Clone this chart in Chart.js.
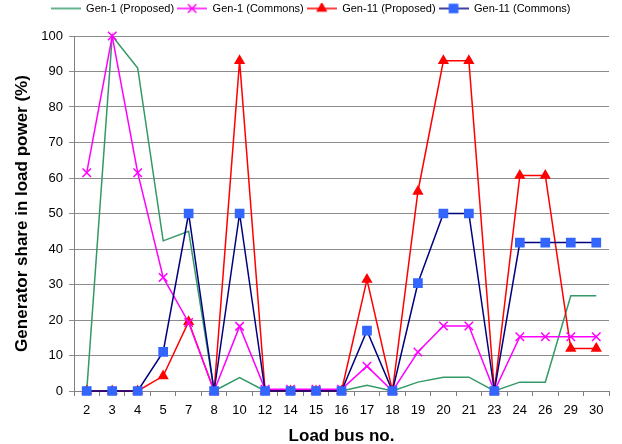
<!DOCTYPE html>
<html>
<head>
<meta charset="utf-8">
<script src="https://cdn.jsdelivr.net/npm/chart.js@4.4.1/dist/chart.umd.min.js"></script>
<style>
  html, body { margin: 0; padding: 0; background: #fff; }
  #wrap { width: 622px; height: 444px; }
</style>
</head>
<body>
<div id="wrap"><canvas id="grafico"></canvas></div>
<script>
// Load bus numbers (categories)
const barras = ["2", "3", "4", "5", "7", "8", "10", "12", "14", "15", "16", "17", "18", "19", "20", "21", "23", "24", "26", "29", "30"];

// Generator share in load power (%)
const gen1Proposto = [0, 100, 91, 42.3, 45, 0, 3.8, 0, 0, 0, 0, 1.6, 0, 2.5, 3.9, 3.9, 0, 2.5, 2.5, 26.8, 26.8];
const gen1Commons  = [61.5, 100, 61.5, 32, 19.3, 0, 18.2, 0.5, 0.5, 0.5, 0.5, 7, 0, 11, 18.3, 18.3, 0, 15.3, 15.3, 15.3, 15.3];
const gen11Proposto = [0, 0, 0, 4.2, 19.5, 0, 93, 0, 0, 0, 0, 31.4, 0, 56.2, 93, 93, 0, 60.7, 60.7, 12, 12];
const gen11Commons  = [0, 0, 0, 11, 50, 0, 50, 0, 0, 0, 0, 17, 0, 30.4, 50, 50, 0, 41.8, 41.8, 41.8, 41.8];

const ticksY = [0, 10, 20, 30, 40, 50, 60, 70, 80, 90, 100];

const fonte = "'Liberation Sans', Arial, sans-serif";

// small canvas used as legend symbol: line + marker
function desenharSimbolo(corLinha, corPonto, estilo, raio) {
  const c = document.createElement('canvas');
  c.width = 30; c.height = 12;
  const ctx = c.getContext('2d');
  ctx.strokeStyle = corLinha;
  ctx.lineWidth = 1.5;
  ctx.beginPath(); ctx.moveTo(0, 6); ctx.lineTo(30, 6); ctx.stroke();
  if (estilo) {
    ctx.fillStyle = corPonto;
    ctx.strokeStyle = corPonto;
    Chart.helpers.drawPoint(ctx, { pointStyle: estilo, radius: raio, rotation: 0, borderWidth: 1.5 }, 15, 6);
  }
  return c;
}

const series = [
  { label: "Gen-1 (Proposed)", data: gen1Proposto, linha: '#339966', ponto: '#339966', estilo: false, raio: 0, ordem: 3 },
  { label: "Gen-1 (Commons)", data: gen1Commons, linha: '#ff00ff', ponto: '#ff00ff', estilo: 'crossRot', raio: 6, ordem: 1 },
  { label: "Gen-11 (Proposed)", data: gen11Proposto, linha: '#ff0000', ponto: '#ff0000', estilo: 'triangle', raio: 5, ordem: 2 },
  { label: "Gen-11 (Commons)", data: gen11Commons, linha: '#000080', ponto: '#3366ff', estilo: 'rect', raio: 5.8, ordem: 0 }
];

const simbolos = series.map(s => desenharSimbolo(s.linha, s.ponto, s.estilo, s.raio));

// leave some room between the legend and the plot
const ajusteLegenda = {
  id: 'ajusteLegenda',
  afterInit(chart) {
    const leg = chart.legend;
    const fitOrig = leg.fit.bind(leg);
    leg.fit = function () { fitOrig(); this.height += 12; };
  }
};

new Chart(document.getElementById('grafico'), {
  type: 'line',
  plugins: [ajusteLegenda],
  data: {
    labels: barras,
    datasets: series.map(s => ({
      label: s.label,
      data: s.data,
      borderColor: s.linha,
      backgroundColor: s.ponto,
      borderWidth: 1.5,
      tension: 0,
      fill: false,
      order: s.ordem,
      clip: false,
      pointStyle: s.estilo || 'circle',
      pointRadius: s.estilo ? s.raio : 0,
      pointHoverRadius: s.estilo ? s.raio : 0,
      pointBorderColor: s.ponto,
      pointBackgroundColor: s.ponto,
      pointBorderWidth: 1.5
    }))
  },
  options: {
    responsive: true,
    maintainAspectRatio: false,
    animation: false,
    layout: { padding: { left: 12, right: 13, top: 0, bottom: 0 } },
    plugins: {
      tooltip: { enabled: false },
      legend: {
        position: 'top',
        labels: {
          usePointStyle: true,
          pointStyleWidth: 30,
          padding: 3,
          color: '#000',
          font: { family: fonte, size: 11 },
          generateLabels: () => series.map((s, i) => ({
            text: s.label,
            pointStyle: simbolos[i],
            fillStyle: s.ponto,
            strokeStyle: s.linha,
            lineWidth: 0,
            fontColor: '#000',
            datasetIndex: i,
            hidden: false
          }))
        }
      }
    },
    scales: {
      x: {
        type: 'category',
        offset: true,
        grid: { offset: true, drawOnChartArea: false, drawTicks: true, tickLength: 5, color: '#808080' },
        border: { color: '#808080' },
        ticks: { color: '#000', font: { family: fonte, size: 13 }, padding: 7, maxRotation: 0, autoSkip: false },
        title: { display: true, text: 'Load bus no.', color: '#000', font: { family: fonte, size: 17, weight: 'bold', lineHeight: 0.9 }, padding: { top: 4, bottom: 0 } },
        afterFit: (eixo) => { eixo.height = 53; }
      },
      y: {
        min: 0,
        max: 100,
        afterBuildTicks: (eixo) => { eixo.ticks = ticksY.map(v => ({ value: v })); },
        grid: { color: '#8c8c8c', tickLength: 5, lineWidth: 1 },
        border: { color: '#808080' },
        ticks: { color: '#000', font: { family: fonte, size: 13 }, padding: 6 },
        title: { display: true, text: 'Generator share in load power (%)', color: '#000', font: { family: fonte, size: 17, weight: 'bold' }, padding: { top: 0, bottom: 0 } },
        afterFit: (eixo) => { eixo.width = 62; }
      }
    }
  }
});
</script>
</body>
</html>
